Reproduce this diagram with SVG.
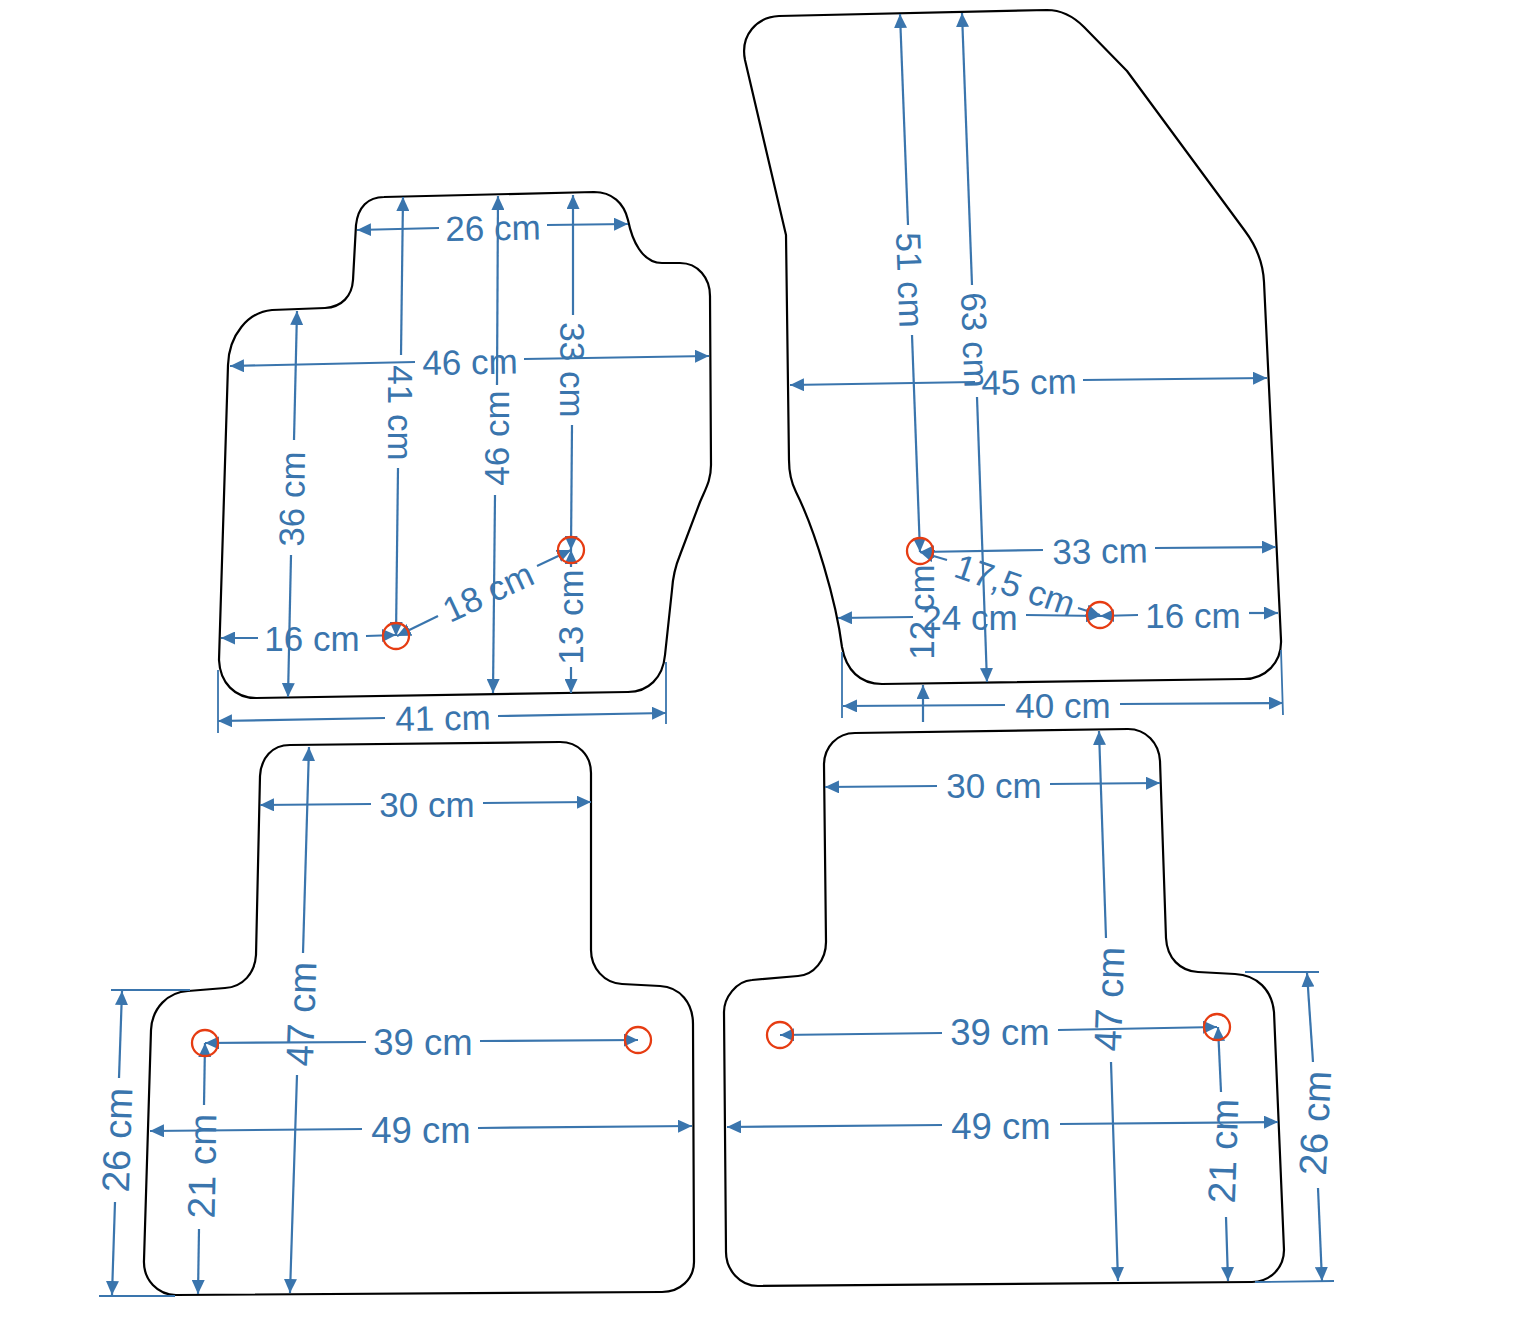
<svg xmlns="http://www.w3.org/2000/svg" width="1538" height="1329" viewBox="0 0 1538 1329">
<defs>
<marker id="a" markerUnits="userSpaceOnUse" markerWidth="15" markerHeight="13" refX="14" refY="6.5" orient="auto"><path d="M0 0L14 6.5L0 13Z" fill="#3a75ad"/></marker>
</defs>
<style>
.m{fill:#fff;stroke:#000;stroke-width:2.2;stroke-linejoin:round}
.d{fill:none;stroke:#3a75ad;stroke-width:2.2;marker-end:url(#a)}
.e{fill:none;stroke:#3a75ad;stroke-width:1.8}
.c{fill:none;stroke:#e63c12;stroke-width:2.3}
text{font-family:"Liberation Sans",Arial,sans-serif;font-size:35px;fill:#3a75ad;text-anchor:middle}
.b{font-size:38.5px}
.n{font-size:36.5px}
</style>
<rect width="1538" height="1329" fill="#fff"/>
<g id="mat-front-left"><path class="m" d="M384 197L594 192C612 192 624 203 628 220C632 240 642 263 662 263L680 263C698 263 710 278 710 296L711 465C711 480 706 488 700 502L680 555C675 567 673 575 672 590L665 655C663 678 648 692 628 692L256 698C235 698 220 683 219 660L228 365C229 335 248 312 272 310L325 308C342 307 352 296 353 280L356 225C358 207 368 197 384 197Z"/></g>
<g id="mat-front-right"><path class="m" d="M779 16L1047 10C1062 10 1073 16 1084 27L1127 71L1245 231C1257 247 1263 262 1264 282L1281 640C1282 663 1265 679 1244 679L882 684C860 684 846 670 842 647C836 600 815 530 796 492C791 482 789 472 789 460L786 235L745 60C740 35 757 17 779 16Z"/></g>
<g id="mat-rear-left"><path class="m" d="M290 745L560 742C578 742 591 755 591 773L591 950C591 968 604 983 622 984L660 986C680 987 693 1003 693 1024L694 1262C694 1279 680 1292 662 1292L176 1295C158 1295 143 1280 144 1260L151 1030C152 1008 168 992 188 991L225 988C243 987 255 973 256 955L260 776C261 758 272 745 290 745Z"/></g>
<g id="mat-rear-right"><path class="m" d="M855 733L1128 729C1146 729 1159 743 1160 761L1166 938C1167 958 1180 971 1198 972L1235 974C1257 975 1272 990 1274 1012L1284 1250C1284 1268 1270 1282 1252 1282L758 1286C740 1286 726 1270 726 1252L724 1012C724 998 736 981 752 980L798 976C814 975 826 960 826 942L824 765C824 747 837 733 855 733Z"/></g>
<g id="connectors">
<path class="d" d="M439 228L357 230"/><path class="d" d="M547 225L628 224"/>
<path class="d" d="M415 362L230 366"/><path class="d" d="M524 359L709 356"/>
<path class="d" d="M401 355L403 197"/><path class="d" d="M398 468L396 636"/>
<path class="d" d="M497 385L498 196"/><path class="d" d="M495 495L493 693"/>
<path class="d" d="M573 315L573 195"/><path class="d" d="M572 425L571 550"/>
<path class="d" d="M571 667L571 693"/><path class="d" d="M571 567L571 550"/>
<path class="d" d="M294 440L297 311"/><path class="d" d="M291 555L288 697"/>
<path class="d" d="M258 638L221 638"/><path class="d" d="M366 636L396 635"/>
<path class="d" d="M438 616L397 636"/><path class="d" d="M537 566L571 550"/>
<path class="d" d="M385 718L218 721"/><path class="d" d="M498 716L666 713"/>
<path class="e" d="M218 670L218 733M666 662L666 724"/>
<path class="d" d="M908 225L900 14"/><path class="d" d="M912 335L920 552"/>
<path class="d" d="M972 285L962 13"/><path class="d" d="M977 397L987 682"/>
<path class="d" d="M975 382L790 385"/><path class="d" d="M1083 380L1267 378"/>
<path class="d" d="M1043 550L920 552"/><path class="d" d="M1155 548L1276 547"/>
<path class="d" d="M947 560L920 552"/><path class="d" d="M1078 608L1100 615"/>
<path class="d" d="M913 617L838 618"/><path class="d" d="M1026 615L1100 616"/>
<path class="d" d="M1138 615L1100 616"/><path class="d" d="M1249 613L1278 613"/>
<path class="d" d="M923 722L923 685"/>
<path class="d" d="M1005 705L843 706"/><path class="d" d="M1120 704L1283 703"/>
<path class="e" d="M842 652L842 718M1281 650L1283 715"/>
<path class="d" d="M371 804L260 805"/><path class="d" d="M483 803L591 802"/>
<path class="d" d="M303 953L309 747"/><path class="d" d="M297 1075L290 1293"/>
<path class="d" d="M366 1042L205 1043"/><path class="d" d="M480 1041L638 1040"/>
<path class="d" d="M362 1129L150 1131"/><path class="d" d="M478 1128L692 1126"/>
<path class="d" d="M204 1105L205 1043"/><path class="d" d="M199 1229L198 1294"/>
<path class="d" d="M119 1078L122 991"/><path class="d" d="M115 1202L112 1295"/>
<path class="e" d="M111 990L190 990M99 1296L175 1296"/>
<path class="d" d="M937 786L825 787"/><path class="d" d="M1050 784L1160 783"/>
<path class="d" d="M1106 938L1099 731"/><path class="d" d="M1111 1062L1118 1281"/>
<path class="d" d="M942 1033L780 1035"/><path class="d" d="M1058 1030L1217 1027"/>
<path class="d" d="M942 1125L727 1127"/><path class="d" d="M1060 1124L1278 1122"/>
<path class="d" d="M1221 1092L1218 1027"/><path class="d" d="M1226 1217L1228 1281"/>
<path class="d" d="M1313 1062L1307 973"/><path class="d" d="M1318 1188L1322 1281"/>
<path class="e" d="M1245 972L1319 972M1255 1282L1334 1281"/>
</g>
<g id="points">
<circle class="c" cx="396" cy="636" r="13"/><circle class="c" cx="571" cy="550" r="13"/>
<circle class="c" cx="920" cy="551" r="13"/><circle class="c" cx="1100" cy="615" r="13"/>
<circle class="c" cx="205" cy="1043" r="13"/><circle class="c" cx="638" cy="1040" r="13"/>
<circle class="c" cx="780" cy="1035" r="13"/><circle class="c" cx="1217" cy="1027" r="13"/>
</g>
<g id="labels">
<text transform="translate(493 228) rotate(-1)" dy=".35em">26 cm</text>
<text transform="translate(470 362) rotate(-1)" dy=".35em">46 cm</text>
<text transform="translate(400 413) rotate(90)" dy=".35em">41 cm</text>
<text transform="translate(497 438) rotate(-90)" dy=".35em">46 cm</text>
<text transform="translate(572 370) rotate(90)" dy=".35em">33 cm</text>
<text transform="translate(571 617) rotate(-90)" dy=".35em">13 cm</text>
<text transform="translate(292 499) rotate(-89)" dy=".35em">36 cm</text>
<text transform="translate(312 639)" dy=".35em">16 cm</text>
<text transform="translate(488 592) rotate(-25)" dy=".35em">18 cm</text>
<text transform="translate(443 718) rotate(-1)" dy=".35em">41 cm</text>
<text transform="translate(910 280) rotate(88)" dy=".35em">51 cm</text>
<text transform="translate(975 340) rotate(88)" dy=".35em">63 cm</text>
<text transform="translate(1029 382) rotate(-1)" dy=".35em">45 cm</text>
<text transform="translate(1100 551) rotate(-1)" dy=".35em">33 cm</text>
<text transform="translate(1015 585) rotate(19)" dy=".35em">17,5 cm</text>
<text transform="translate(970 618)" dy=".35em">24 cm</text>
<text transform="translate(1193 616)" dy=".35em">16 cm</text>
<text transform="translate(922 612) rotate(-90)" dy=".35em">12 cm</text>
<text transform="translate(1063 706)" dy=".35em">40 cm</text>
<text transform="translate(427 805)" dy=".35em">30 cm</text>
<text class="b" transform="translate(301 1014) rotate(-88)" dy=".35em">47 cm</text>
<text class="n" transform="translate(423 1042)" dy=".35em">39 cm</text>
<text class="n" transform="translate(421 1130)" dy=".35em">49 cm</text>
<text class="b" transform="translate(202 1166) rotate(-89)" dy=".35em">21 cm</text>
<text class="b" transform="translate(117 1140) rotate(-88)" dy=".35em">26 cm</text>
<text transform="translate(994 786)" dy=".35em">30 cm</text>
<text class="b" transform="translate(1109 999) rotate(-88)" dy=".35em">47 cm</text>
<text class="n" transform="translate(1000 1032)" dy=".35em">39 cm</text>
<text class="n" transform="translate(1001 1126)" dy=".35em">49 cm</text>
<text class="b" transform="translate(1223 1151) rotate(-88)" dy=".35em">21 cm</text>
<text class="b" transform="translate(1315 1123) rotate(-87)" dy=".35em">26 cm</text>
</g>
</svg>
